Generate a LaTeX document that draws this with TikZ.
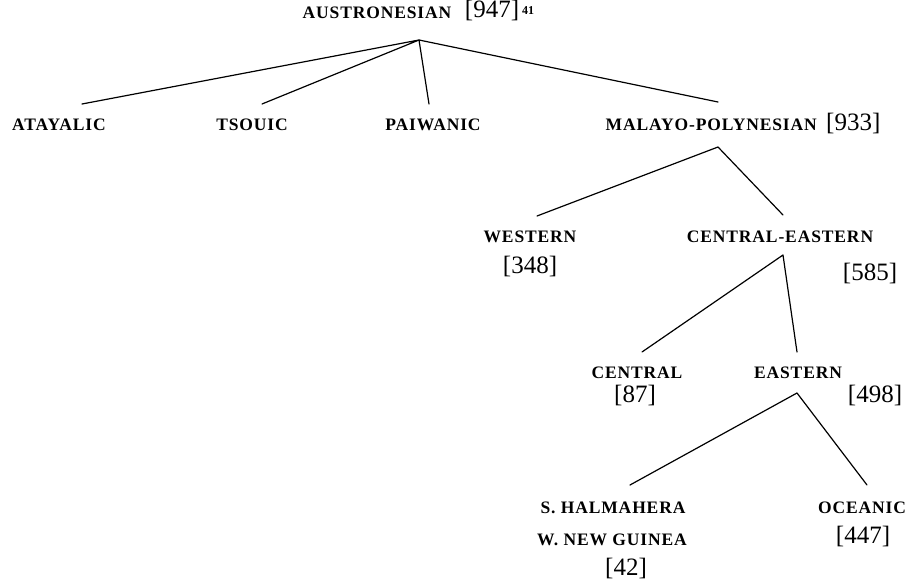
\documentclass[tikz,border=0pt]{standalone}
\usepackage{fontspec}
\setmainfont{Liberation Serif}
\newfontfamily\labfont{Liberation Serif}[LetterSpace=5]
\begin{document}
\begin{tikzpicture}[x=1pt,y=-1pt,
  lab/.style={inner sep=0pt,anchor=base,font=\labfont\bfseries\fontsize{17.5}{19}\selectfont},
  num/.style={inner sep=0pt,anchor=base,font=\fontsize{25}{27}\selectfont},
  branch/.style={line width=1.2pt,line cap=round,line join=round}]
\useasboundingbox (0,0) rectangle (916,583);
% texts
\node[lab] (aus) at (377,19) {AUSTRONESIAN};
\node[num] (aus n) at (492,18) {[947]};
\node[inner sep=0pt,anchor=base west,font=\bfseries\fontsize{12}{13}\selectfont] (aus sup) at (522,15) {41};
\node[lab] (ata) at (59,131) {ATAYALIC};
\node[lab] (tso) at (252,131) {TSOUIC};
\node[lab] (pai) at (433,131) {PAIWANIC};
\node[lab,anchor=base east] (mp) at (817,131) {MALAYO-POLYNESIAN};
\node[num,anchor=base west] (mp n) at (826,131) {[933]};
\node[lab] (wes) at (530,242) {WESTERN};
\node[num] (wes n) at (530,273) {[348]};
\node[lab] (ce) at (780,242) {CENTRAL-EASTERN};
\node[num] (ce n) at (870,280) {[585]};
\node[lab] (cen) at (637,378) {CENTRAL};
\node[num] (cen n) at (635,402) {[87]};
\node[lab] (eas) at (798,378) {EASTERN};
\node[num] (eas n) at (875,402) {[498]};
\node[lab] (hal) at (613,513) {S. HALMAHERA};
\node[lab] (ng) at (612,545) {W. NEW GUINEA};
\node[num] (ng n) at (626,575) {[42]};
\node[lab] (oce) at (862,513) {OCEANIC};
\node[num] (oce n) at (863,543) {[447]};
% branch points
\coordinate (r) at (419,40);
\coordinate (r1) at (82,104);
\coordinate (r2) at (262,104);
\coordinate (r3) at (429,104);
\coordinate (r4) at (718,102);
\coordinate (m) at (718,147);
\coordinate (m1) at (537,216);
\coordinate (m2) at (783,215);
\coordinate (c) at (783,255);
\coordinate (c1) at (642,352);
\coordinate (c2) at (797,352);
\coordinate (e) at (797,393);
\coordinate (e1) at (630,485);
\coordinate (e2) at (867,485);
% connectors
\draw[branch] (r1) -- (r) -- (r2);
\draw[branch] (r3) -- (r) -- (r4);
\draw[branch] (m1) -- (m) -- (m2);
\draw[branch] (c1) -- (c) -- (c2);
\draw[branch] (e1) -- (e) -- (e2);
\end{tikzpicture}
\end{document}
